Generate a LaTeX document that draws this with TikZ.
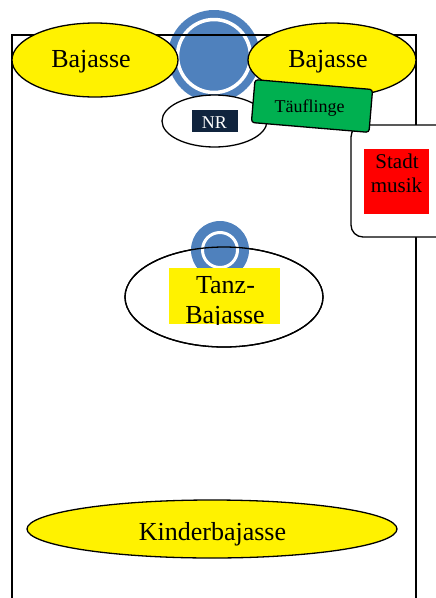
\documentclass[tikz,border=0pt]{standalone}
\usepackage{fontspec}
\setmainfont{Liberation Serif}
\usetikzlibrary{shapes.geometric}
\definecolor{ringblue}{HTML}{4F81BD}
\definecolor{nrnavy}{HTML}{10243E}
\definecolor{tgreen}{HTML}{00B050}
\tikzset{
  outline/.style={draw=black, line width=1.3pt},
  oval/.style={ellipse, outline, inner sep=0pt},
  bigtext/.style={font=\fontsize{26}{30}\selectfont, inner sep=0pt, anchor=base},
  midtext/.style={font=\fontsize{21}{24}\selectfont, inner sep=0pt, anchor=base},
  smalltext/.style={font=\fontsize{18}{20}\selectfont, inner sep=0pt, anchor=base},
}
\begin{document}
\begin{tikzpicture}[x=1pt,y=-1pt]
\useasboundingbox (0,0) rectangle (436,598);
% frame (open at the bottom)
\coordinate (fbl) at (12,610);
\coordinate (ftl) at (12,35);
\coordinate (ftr) at (416,35);
\coordinate (fbr) at (416,610);
\draw[outline] (fbl) -- (ftl) -- (ftr) -- (fbr);
% Tanz-Bajasse ellipse
\node[oval, fill=white, minimum width=198, minimum height=100] (tanz) at (224,297) {};
\node[circle, fill=ringblue, minimum size=58, inner sep=0pt] (smallring) at (220,250) {};
\draw[white, line width=3pt] (smallring.center) circle (17.5);
\draw[outline] (tanz.center) ellipse (99 and 50);
\node[fill=yellow, minimum width=111, minimum height=56, inner sep=0pt] (tanzbox) at (224.5,296) {};
\begin{scope}
\clip (tanzbox.south west) rectangle (tanzbox.north east);
\node[bigtext] (tanzA) at (225.5,293) {Tanz-};
\node[bigtext] (tanzB) at (225,323) {Bajasse};
\end{scope}
% Kinderbajasse
\node[oval, fill=yellow, minimum width=370, minimum height=58] (kinder) at (212,529) {};
\node[bigtext] (kindertext) at (212.5,540) {Kinderbajasse};
% big ring
\node[circle, fill=ringblue, minimum size=92, inner sep=0pt] (bigring) at (214,56) {};
\draw[white, line width=3.5pt] (bigring.center) circle (36.5);
\draw[outline] (ftl) -- (ftr);
% Bajasse ellipses
\node[oval, fill=yellow, minimum width=166, minimum height=74] (bajL) at (95,60) {};
\node[bigtext] (bajLtext) at (91,67) {Bajasse};
\node[oval, fill=yellow, minimum width=168, minimum height=74] (bajR) at (332,60) {};
\node[bigtext] (bajRtext) at (328,67) {Bajasse};
% NR
\node[oval, fill=white, minimum width=105, minimum height=52] (nr) at (214.5,121) {};
\node[fill=nrnavy, minimum width=46, minimum height=22, inner sep=0pt] (nrbox) at (215,121) {};
\node[smalltext, text=white] (nrtext) at (214.5,128) {NR};
% Stadtmusik
\draw[outline, fill=white, rounded corners=12pt] (446,125) -- (351,125) -- (351,237) -- (446,237);
\node[fill=red, minimum size=65, inner sep=0pt] (stadtbox) at (396.5,181.5) {};
\node[midtext] (stadtA) at (397,168) {Stadt};
\node[midtext] (stadtB) at (396.5,192) {musik};
% Taeuflinge
\node[outline, fill=tgreen, rounded corners=3pt, minimum width=118, minimum height=43, rotate=-4.8] (tauf) at (312,106) {};
\node[smalltext] (tauftext) at (309.5,112) {Täuflinge};
\end{tikzpicture}
\end{document}
